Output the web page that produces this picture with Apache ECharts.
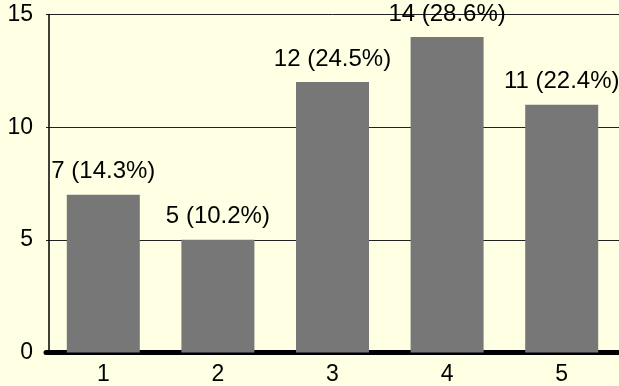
<!DOCTYPE html>
<html>
<head>
<meta charset="utf-8">
<script src="https://cdn.jsdelivr.net/npm/echarts@6/dist/echarts.min.js"></script>
<style>
  html, body { margin: 0; padding: 0; background: #ffffe4; }
  #chart { width: 619px; height: 386px; }
</style>
</head>
<body>
<div id="chart"></div>
<script>
// Categories and counts per category
var categories = ['1', '2', '3', '4', '5'];
var counts = [7, 5, 12, 14, 11];
var yTicks = { min: 0, max: 15, step: 5 };

var total = counts.reduce(function (a, b) { return a + b; }, 0);

var chart = echarts.init(document.getElementById('chart'), null, { renderer: 'canvas' });

var font = 'Arial, "Liberation Sans", sans-serif';

chart.setOption({
  backgroundColor: '#ffffe4',
  animation: false,
  grid: { left: 46, right: -4, top: 14.5, bottom: 33.5 },
  xAxis: {
    type: 'category',
    data: categories,
    offset: 2.5,
    axisLine: { show: true, lineStyle: { color: '#000', width: 5 } },
    axisTick: { show: false },
    axisLabel: { color: '#000', fontSize: 23, fontFamily: font, margin: 8 }
  },
  yAxis: {
    type: 'value',
    min: yTicks.min,
    max: yTicks.max,
    interval: yTicks.step,
    offset: -3,
    axisLine: { show: true, lineStyle: { color: '#000', width: 1.5 } },
    axisTick: { show: false },
    axisLabel: { color: '#000', fontSize: 23, fontFamily: font, margin: 16 },
    splitLine: { show: true, lineStyle: { color: '#222', width: 1 } }
  },
  series: [{
    type: 'bar',
    data: counts,
    barWidth: 73,
    itemStyle: { color: '#777777' },
    label: {
      show: true,
      position: 'top',
      distance: 11,
      color: '#000',
      fontSize: 24,
      fontFamily: font,
      formatter: function (p) {
        return p.value + ' (' + (p.value / total * 100).toFixed(1) + '%)';
      }
    }
  }]
});
</script>
</body>
</html>
